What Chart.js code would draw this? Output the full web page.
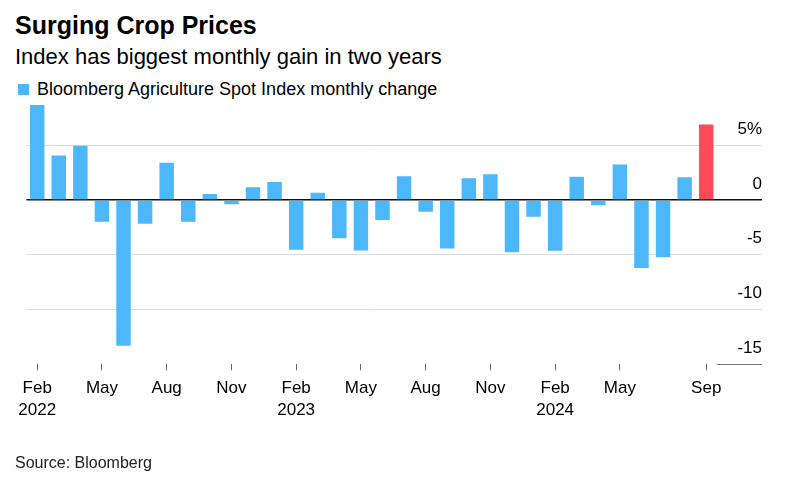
<!DOCTYPE html>
<html>
<head>
<meta charset="utf-8">
<script src="https://cdn.jsdelivr.net/npm/chart.js@4.4.1/dist/chart.umd.min.js"></script>
<style>
  html, body { margin: 0; padding: 0; background: #fff; }
  body { width: 804px; height: 484px; position: relative; overflow: hidden;
         font-family: "Liberation Sans", Arial, Helvetica, sans-serif; color: #000; }
  .txt { position: absolute; white-space: nowrap; line-height: 1; }
  #title { left: 15px; top: 13px; font-size: 25px; font-weight: bold; }
  #subtitle { left: 15px; top: 46px; font-size: 22px; }
  #legend { left: 37px; top: 80px; font-size: 18px; }
  #legendBox { position: absolute; left: 18px; top: 84px; width: 11px; height: 11px; background: #4cb7fb; }
  #source { left: 15px; top: 455px; font-size: 16px; color: #222; }
  #chart { position: absolute; left: 0; top: 0; }
</style>
</head>
<body>
<div class="txt" id="title">Surging Crop Prices</div>
<div class="txt" id="subtitle">Index has biggest monthly gain in two years</div>
<div id="legendBox"></div>
<div class="txt" id="legend">Bloomberg Agriculture Spot Index monthly change</div>
<canvas id="chart" width="804" height="484"></canvas>
<div class="txt" id="source">Source: Bloomberg</div>
<script>
// ---- data ----
const categories = [
  'Feb 2022','Mar 2022','Apr 2022','May 2022','Jun 2022','Jul 2022','Aug 2022','Sep 2022','Oct 2022','Nov 2022','Dec 2022','Jan 2023',
  'Feb 2023','Mar 2023','Apr 2023','May 2023','Jun 2023','Jul 2023','Aug 2023','Sep 2023','Oct 2023','Nov 2023','Dec 2023','Jan 2024',
  'Feb 2024','Mar 2024','Apr 2024','May 2024','Jun 2024','Jul 2024','Aug 2024','Sep 2024'
];
const monthlyChange = [
  8.68, 4.05, 4.96, -1.98, -13.3, -2.16, 3.41, -1.98, 0.55, -0.40, 1.16, 1.64,
  -4.54, 0.67, -3.50, -4.60, -1.83, 2.16, -1.07, -4.44, 1.98, 2.34, -4.78, -1.52,
  -4.63, 2.13, -0.49, 3.23, -6.21, -5.23, 2.07, 6.88
];
const xTickMonths = ['Feb 2022','May 2022','Aug 2022','Nov 2022','Feb 2023','May 2023','Aug 2023','Nov 2023','Feb 2024','May 2024','Sep 2024'];
const yTicks = [-15, -10, -5, 0, 5];
const highlightMonth = 'Sep 2024';

// ---- styles ----
const BLUE = '#4cb7fb';
const RED = '#ff4b58';
const FONT = '"Liberation Sans", Arial, Helvetica, sans-serif';

new Chart(document.getElementById('chart'), {
  type: 'bar',
  data: {
    labels: categories,
    datasets: [{
      label: 'Bloomberg Agriculture Spot Index monthly change',
      data: monthlyChange,
      backgroundColor: ctx => categories[ctx.dataIndex] === highlightMonth ? RED : BLUE,
      borderWidth: 0,
      categoryPercentage: 1,
      barPercentage: 0.67
    }]
  },
  options: {
    responsive: false,
    animation: false,
    devicePixelRatio: 1,
    layout: { padding: { left: 26.4, right: 42, top: 101.4, bottom: 49.7 } },
    plugins: { legend: { display: false }, tooltip: { enabled: false }, title: { display: false } },
    scales: {
      x: {
        type: 'category',
        offset: true,
        afterBuildTicks: s => { s.ticks = s.ticks.filter(t => xTickMonths.includes(categories[t.value])); },
        afterFit: s => { s.height = 70; },
        border: { display: false },
        grid: { offset: false, drawOnChartArea: false, drawTicks: true, tickLength: 6, tickColor: '#666', lineWidth: 1 },
        ticks: {
          autoSkip: false, maxRotation: 0, minRotation: 0, padding: 7, color: '#000',
          font: { family: FONT, size: 17, lineHeight: 1.28 },
          callback: (value) => {
            const [m, y] = categories[value].split(' ');
            return m === 'Feb' ? [m, y] : m;
          }
        }
      },
      y: {
        position: 'right',
        min: -15,
        max: 9,
        afterBuildTicks: s => { s.ticks = yTicks.map(v => ({ value: v })); },
        afterFit: s => { s.width = 45; },
        border: { display: false },
        grid: {
          drawTicks: true,
          tickLength: 45,
          color: ctx => ctx.tick.value === 0 ? '#111' : (ctx.tick.value === -15 ? 'rgba(0,0,0,0)' : '#dcdcdc'),
          tickColor: ctx => ctx.tick.value === 0 ? '#111' : (ctx.tick.value === -15 ? '#777' : '#dcdcdc'),
          lineWidth: ctx => ctx.tick.value === 0 ? 1.5 : 1
        },
        ticks: {
          crossAlign: 'far',
          labelOffset: -16,
          padding: 0,
          color: '#000',
          font: { family: FONT, size: 17 },
          callback: v => v === 5 ? '5%' : String(v)
        }
      }
    }
  }
});
</script>
</body>
</html>
